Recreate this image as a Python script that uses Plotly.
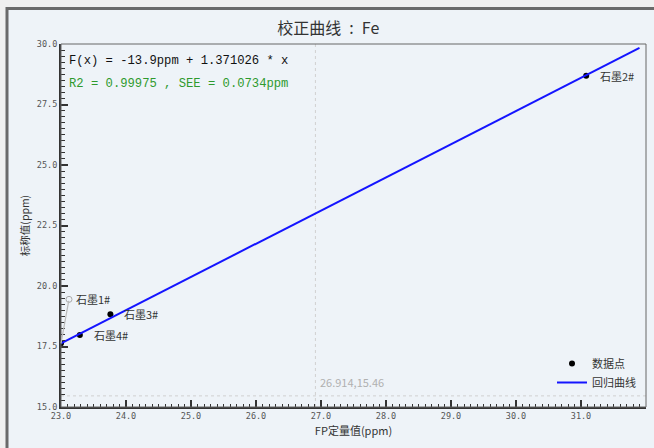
import plotly.graph_objects as go

# Calibration samples: FP quantified value (x) vs. nominal value (y), ppm
sample_names = ["石墨1#", "石墨2#", "石墨3#", "石墨4#"]
fp_values = [23.0, 31.08, 23.76, 23.29]
nominal_values = [17.63, 28.69, 18.83, 17.98]

# Regression result
intercept = -13.9
slope = 1.371026
r2 = 0.99975
see = 0.0734
fit_x_range = [23.0, 31.9]

# Cursor read-out
cursor_x = 26.914
cursor_y = 15.46

x_range = [23.0, 32.0]
y_range = [15.0, 30.0]
x_ticks = [23.0, 24.0, 25.0, 26.0, 27.0, 28.0, 29.0, 30.0, 31.0, 32.0]
y_ticks = [15.0, 17.5, 20.0, 22.5, 25.0, 27.5, 30.0]

W, H = 654, 448
ML, MR, MT, MB = 61, 8, 44, 41
PW, PH = W - ML - MR, H - MT - MB

PANEL = "#eef3f8"
PAGE = "#f0f0f0"
CJK = "Noto Sans CJK SC"
MONO = "Liberation Mono"


def px_to_paper_x(px):
    return (px - ML) / PW


def px_to_paper_y(py):
    return (H - MB - py) / PH


def px_dx(dx):
    return dx * (x_range[1] - x_range[0]) / PW


def px_dy(dy):
    return dy * (y_range[1] - y_range[0]) / PH


fit_y = [intercept + slope * v for v in fit_x_range]

fig = go.Figure()

fig.add_trace(go.Scatter(
    x=fp_values, y=nominal_values, mode="markers", name="数据点",
    marker=dict(color="black", size=6), hoverinfo="x+y+text", text=sample_names,
))
fig.add_trace(go.Scatter(
    x=fit_x_range, y=fit_y, mode="lines", name="回归曲线",
    line=dict(color="#1414ff", width=2),
))

# Sample labels (the first one is pulled away from the axis corner with a leader)
label_offsets = {"石墨1#": (8, -44), "石墨2#": None, "石墨3#": None, "石墨4#": None}
annotations = []
for name, xv, yv in zip(sample_names, fp_values, nominal_values):
    off = label_offsets[name]
    if off is None:
        annotations.append(dict(
            x=xv, y=yv, text=name, showarrow=False, xanchor="left", yanchor="middle",
            xshift=12, font=dict(family=CJK, size=11, color="#333333"),
        ))
    else:
        dx, dy = off
        tx, ty = xv + px_dx(dx), yv - px_dy(dy)
        annotations.append(dict(
            x=xv, y=yv, ax=tx, ay=ty, axref="x", ayref="y", text="",
            showarrow=True, arrowhead=0, arrowwidth=1.2, arrowcolor="#bbbbbb",
        ))
        annotations.append(dict(
            x=tx, y=ty, text=name, showarrow=False, xanchor="left", yanchor="middle",
            xshift=5, font=dict(family=CJK, size=11, color="#333333"),
        ))
        fig.add_trace(go.Scatter(
            x=[tx], y=[ty], mode="markers", showlegend=False, hoverinfo="skip",
            marker=dict(symbol="circle-open", size=6, color="#aaaaaa", line=dict(width=1)),
        ))

# Equation and fit statistics
annotations.append(dict(
    xref="paper", yref="paper", x=px_to_paper_x(67), y=px_to_paper_y(61),
    xanchor="left", yanchor="middle", showarrow=False,
    text=f"F(x) = {intercept}ppm + {slope} * x",
    font=dict(family=MONO, size=12.2, color="#111111"),
))
annotations.append(dict(
    xref="paper", yref="paper", x=px_to_paper_x(67), y=px_to_paper_y(84),
    xanchor="left", yanchor="middle", showarrow=False,
    text=f"R2 = {r2} , SEE = {see}ppm",
    font=dict(family=MONO, size=12.2, color="#2e9a2e"),
))
# Cursor coordinates
annotations.append(dict(
    x=cursor_x, y=cursor_y, text=f"{cursor_x},{cursor_y}", showarrow=False,
    xanchor="left", yanchor="bottom", xshift=3, yshift=4,
    font=dict(family=CJK, size=11, color="#b0b0b0"),
))

shapes = [
    # page background strips and window border
    dict(type="rect", xref="paper", yref="paper", layer="below",
         x0=px_to_paper_x(0), x1=px_to_paper_x(W + 2), y0=px_to_paper_y(-2), y1=px_to_paper_y(7),
         fillcolor=PAGE, line=dict(width=0)),
    dict(type="rect", xref="paper", yref="paper", layer="below",
         x0=px_to_paper_x(-2), x1=px_to_paper_x(6), y0=px_to_paper_y(H + 2), y1=px_to_paper_y(-2),
         fillcolor=PAGE, line=dict(width=0)),
    dict(type="line", xref="paper", yref="paper", layer="below",
         x0=px_to_paper_x(6), x1=px_to_paper_x(W + 2), y0=px_to_paper_y(8.5), y1=px_to_paper_y(8.5),
         line=dict(color="#6a6a6a", width=3)),
    dict(type="line", xref="paper", yref="paper", layer="below",
         x0=px_to_paper_x(7), x1=px_to_paper_x(7), y0=px_to_paper_y(7), y1=px_to_paper_y(H + 2),
         line=dict(color="#6a6a6a", width=3)),
    # plot frame
    dict(type="rect", xref="paper", yref="paper", x0=0, x1=1, y0=0, y1=1,
         line=dict(color="#666666", width=1)),
    # cursor crosshair
    dict(type="line", xref="x", yref="paper", x0=cursor_x, x1=cursor_x, y0=0, y1=1,
         line=dict(color="#d0d0d0", width=1, dash="dot"), layer="below"),
    dict(type="line", xref="paper", yref="y", x0=0, x1=1, y0=cursor_y, y1=cursor_y,
         line=dict(color="#d0d0d0", width=1, dash="dot"), layer="below"),
]

axis_common = dict(
    showgrid=False, zeroline=False, showline=True, linecolor="#333333", linewidth=2,
    ticks="inside", ticklen=7, tickwidth=1.5, tickcolor="#333333",
    tickfont=dict(family="DejaVu Sans Mono", size=8.5, color="#555555"),
)

fig.update_layout(
    width=W, height=H,
    margin=dict(l=ML, r=MR, t=MT, b=MB),
    paper_bgcolor=PANEL, plot_bgcolor=PANEL,
    title=dict(text="校正曲线\u2002:\u2002Fe", x=0.502, xref="container", xanchor="center",
               y=1 - 28 / H, yanchor="middle", yref="container",
               font=dict(family=CJK, size=16, color="#333333")),
    xaxis=dict(
        range=x_range, tickvals=x_ticks, ticktext=[f"{v:.1f}" for v in x_ticks],
        minor=dict(dtick=0.1, ticks="inside", ticklen=3.5, tickcolor="#333333", tickwidth=1),
        title=dict(text="FP定量值(ppm)", standoff=7, font=dict(family=CJK, size=11, color="#333333")),
        **axis_common,
    ),
    yaxis=dict(
        range=y_range, tickvals=y_ticks, ticktext=[f"{v:.1f}" for v in y_ticks],
        minor=dict(dtick=0.25, ticks="inside", ticklen=3.5, tickcolor="#333333", tickwidth=1),
        title=dict(text="标称值(ppm)", standoff=5, font=dict(family=CJK, size=10.5, color="#333333")),
        **axis_common,
    ),
    legend=dict(
        x=px_to_paper_x(641), xanchor="right", y=px_to_paper_y(397), yanchor="bottom",
        bgcolor="rgba(0,0,0,0)", borderwidth=0,
        font=dict(family=CJK, size=11, color="#333333"), tracegroupgap=0,
    ),
    annotations=annotations,
    shapes=shapes,
    showlegend=True,
)

fig.write_html("out.html")
